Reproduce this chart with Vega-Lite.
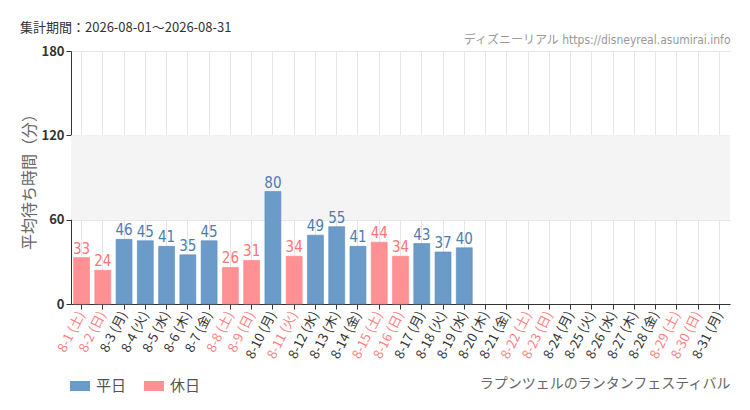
{
  "$schema": "https://vega.github.io/schema/vega-lite/v6.json",
  "width": 659,
  "height": 253,
  "autosize": {"type": "none"},
  "padding": {"left": 71, "top": 51, "right": 20, "bottom": 106},
  "background": "#ffffff",
  "config": {
    "view": {"stroke": null},
    "font": "Noto Sans CJK JP"
  },
  "title": {
    "text": "集計期間：2026-08-01～2026-08-31",
    "anchor": "start",
    "frame": "group",
    "dx": -51,
    "fontSize": 13,
    "fontWeight": "normal",
    "color": "#333333",
    "offset": -2
  },
  "datasets": {
    "waits": [
      {"day": "8-1 (土)", "kind": "休日", "wait": 33},
      {"day": "8-2 (日)", "kind": "休日", "wait": 24},
      {"day": "8-3 (月)", "kind": "平日", "wait": 46},
      {"day": "8-4 (火)", "kind": "平日", "wait": 45},
      {"day": "8-5 (水)", "kind": "平日", "wait": 41},
      {"day": "8-6 (木)", "kind": "平日", "wait": 35},
      {"day": "8-7 (金)", "kind": "平日", "wait": 45},
      {"day": "8-8 (土)", "kind": "休日", "wait": 26},
      {"day": "8-9 (日)", "kind": "休日", "wait": 31},
      {"day": "8-10 (月)", "kind": "平日", "wait": 80},
      {"day": "8-11 (火)", "kind": "休日", "wait": 34},
      {"day": "8-12 (水)", "kind": "平日", "wait": 49},
      {"day": "8-13 (木)", "kind": "平日", "wait": 55},
      {"day": "8-14 (金)", "kind": "平日", "wait": 41},
      {"day": "8-15 (土)", "kind": "休日", "wait": 44},
      {"day": "8-16 (日)", "kind": "休日", "wait": 34},
      {"day": "8-17 (月)", "kind": "平日", "wait": 43},
      {"day": "8-18 (火)", "kind": "平日", "wait": 37},
      {"day": "8-19 (水)", "kind": "平日", "wait": 40}
    ],
    "band": [{"lo": 60, "hi": 120}]
  },
  "layer": [
    {
      "data": {"name": "band"},
      "mark": {"type": "rect", "color": "#f4f4f4"},
      "encoding": {
        "y": {"field": "lo", "type": "quantitative", "scale": {"domain": [0, 180]}},
        "y2": {"field": "hi"}
      }
    },
    {
      "data": {"name": "waits"},
      "mark": {"type": "bar", "strokeWidth": 1, "strokeOpacity": 0.6},
      "encoding": {
        "x": {
          "field": "day",
          "type": "nominal",
          "sort": null,
          "scale": {
            "domain": ["8-1 (土)", "8-2 (日)", "8-3 (月)", "8-4 (火)", "8-5 (水)", "8-6 (木)", "8-7 (金)", "8-8 (土)", "8-9 (日)", "8-10 (月)", "8-11 (火)", "8-12 (水)", "8-13 (木)", "8-14 (金)", "8-15 (土)", "8-16 (日)", "8-17 (月)", "8-18 (火)", "8-19 (水)", "8-20 (木)", "8-21 (金)", "8-22 (土)", "8-23 (日)", "8-24 (月)", "8-25 (火)", "8-26 (水)", "8-27 (木)", "8-28 (金)", "8-29 (土)", "8-30 (日)", "8-31 (月)"],
            "paddingInner": 0.25,
            "paddingOuter": 0.12
          },
          "axis": {
            "title": "ラプンツェルのランタンフェスティバル",
            "titleAnchor": "end",
            "titleAlign": "right",
            "titleBaseline": "middle",
            "titleY": 79,
            "titleFontSize": 14,
            "titleFontWeight": "normal",
            "titleColor": "#666666",
            "labelAngle": -63,
            "labelAlign": "right",
            "labelBaseline": "middle",
            "labelFontSize": 13,
            "labelPadding": 3,
            "labelColor": {
              "condition": {"test": "test(regexp('[土日]'), datum.value) || datum.value == '8-11 (火)'", "value": "#ff8080"},
              "value": "#333333"
            },
            "domainColor": "#333333",
            "tickColor": "#333333",
            "tickSize": 5,
            "grid": true,
            "gridColor": "#e6e6e6"
          }
        },
        "y": {
          "field": "wait",
          "type": "quantitative",
          "scale": {"domain": [0, 180]},
          "axis": {
            "title": "平均待ち時間（分）",
            "titleFontSize": 16,
            "titleFontWeight": "normal",
            "titleColor": "#666666",
            "titlePadding": 3,
            "values": [0, 60, 120, 180],
            "labelFontSize": 13,
            "labelFontWeight": "bold",
            "labelColor": "#333333",
            "domainColor": "#333333",
            "tickColor": "#333333",
            "tickSize": 5,
            "gridColor": "#e6e6e6"
          }
        },
        "color": {
          "field": "kind",
          "type": "nominal",
          "scale": {"domain": ["平日", "休日"], "range": ["#6b9bc8", "#ff9194"]},
          "legend": {
            "title": null,
            "orient": "none",
            "legendX": -1,
            "legendY": 325,
            "direction": "horizontal",
            "symbolType": "M-1,-0.5H1V0.5H-1Z",
            "symbolSize": 400,
            "symbolOpacity": 1,
            "symbolStrokeWidth": 0,
            "labelFontSize": 15,
            "labelColor": "#555555",
            "labelOffset": 6,
            "columnPadding": 17
          }
        },
        "stroke": {
          "field": "kind",
          "type": "nominal",
          "scale": {"domain": ["平日", "休日"], "range": ["#5b8cbb", "#ff8488"]},
          "legend": null
        }
      }
    },
    {
      "data": {"name": "waits"},
      "mark": {"type": "text", "baseline": "bottom", "dy": -1, "font": "DejaVu Sans Condensed, Liberation Sans Narrow, DejaVu Sans, sans-serif", "fontSize": 15},
      "encoding": {
        "x": {
          "field": "day",
          "type": "nominal",
          "sort": null,
          "axis": {
            "orient": "top",
            "title": "ディズニーリアル https://disneyreal.asumirai.info",
            "titleAnchor": "end",
            "titleAlign": "right",
            "titleBaseline": "middle",
            "titleY": -12,
            "titleFont": "DejaVu Sans Condensed, Liberation Sans Narrow, Noto Sans CJK JP, sans-serif",
            "titleFontSize": 12,
            "titleFontWeight": "normal",
            "titleColor": "#999999",
            "labels": false,
            "ticks": false,
            "domain": false,
            "grid": false
          }
        },
        "y": {"field": "wait", "type": "quantitative"},
        "text": {"field": "wait", "type": "quantitative"},
        "color": {
          "field": "kind",
          "type": "nominal",
          "scale": {"domain": ["平日", "休日"], "range": ["#4b7db5", "#ff7478"]},
          "legend": null
        }
      }
    }
  ],
  "resolve": {"axis": {"x": "independent"}, "scale": {"color": "independent"}}
}
